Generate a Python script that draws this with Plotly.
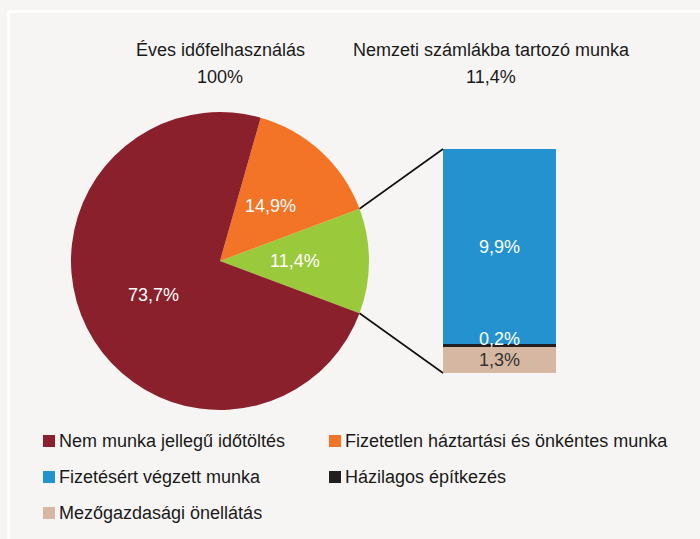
import math
import plotly.graph_objects as go

# ---------------- data ----------------
pie_labels = ["Nemzeti számlákba tartozó munka",
              "Fizetetlen háztartási és önkéntes munka",
              "Nem munka jellegű időtöltés"]
pie_values = [11.4, 14.9, 73.7]
pie_colors = ["#9BC93C", "#F37426", "#8B202D"]

bar_labels = ["Mezőgazdasági önellátás", "Házilagos építkezés", "Fizetésért végzett munka"]
bar_values = [1.3, 0.2, 9.9]
bar_colors = ["#D6B7A2", "#231F20", "#2492CE"]
bar_text_colors = ["#333333", "#FFFFFF", "#FFFFFF"]

legend_labels = ["Nem munka jellegű időtöltés", "Fizetetlen háztartási és önkéntes munka",
                 "Fizetésért végzett munka", "Házilagos építkezés",
                 "Mezőgazdasági önellátás"]
legend_colors = ["#8B202D", "#F37426", "#2492CE", "#231F20", "#D6B7A2"]

title_left = ["Éves időfelhasználás", "100%"]
title_right = ["Nemzeti számlákba tartozó munka", "11,4%"]

# ---------------- layout constants (pixels) ----------------
W, H = 700, 539
FONT = "Liberation Sans, Arial, sans-serif"
FS = 18
BG = "#F7F5F3"
PIE_BOX = (71, 112, 369, 410)     # left, top, right, bottom
BAR_BOX = (443, 149, 556, 373)
LABEL_RADIUS = 0.5                # fraction of pie radius for slice labels


def px(x):
    return x / W


def py(y):
    return 1 - y / H


def fmt(v):
    return f"{v:.1f}".replace(".", ",") + "%"


fig = go.Figure()

total = sum(pie_values)
half_angle = pie_values[0] / total * 180.0

fig.add_trace(go.Pie(
    labels=pie_labels, values=pie_values, sort=False,
    direction="counterclockwise", rotation=90 - half_angle,
    marker=dict(colors=pie_colors, line=dict(width=0)),
    textinfo="none",
    domain=dict(x=[px(PIE_BOX[0]), px(PIE_BOX[2])], y=[py(PIE_BOX[3]), py(PIE_BOX[1])]),
    showlegend=False, hoverinfo="label+percent",
))

for i, (lab, val, col) in enumerate(zip(bar_labels, bar_values, bar_colors)):
    show_text = lab != "Házilagos építkezés"
    fig.add_trace(go.Bar(
        x=["a"], y=[val], name=lab, width=1,
        marker=dict(color=col, line=dict(width=0)),
        texttemplate="%{y:.1f}%" if show_text else None,
        textposition="inside" if show_text else "none",
        insidetextanchor="middle", constraintext="none",
        textfont=dict(color=bar_text_colors[i], size=FS, family=FONT),
        showlegend=False,
    ))

bar_total = sum(bar_values)

annotations = []

# pie slice labels, placed on each slice's bisector
cx = (PIE_BOX[0] + PIE_BOX[2]) / 2
cy = (PIE_BOX[1] + PIE_BOX[3]) / 2
r = (PIE_BOX[2] - PIE_BOX[0]) / 2
start = -half_angle
for val in pie_values:
    span = val / total * 360.0
    mid = math.radians(start + span / 2)
    lx = cx + LABEL_RADIUS * r * math.cos(mid)
    ly = cy - LABEL_RADIUS * r * math.sin(mid)
    annotations.append(dict(x=px(lx), y=py(ly), xref="paper", yref="paper",
                            text=fmt(val), showarrow=False, xanchor="center", yanchor="middle",
                            font=dict(color="white", size=FS, family=FONT)))
    start += span

# label of the thin bar
base_thin = bar_values[0]
annotations.append(dict(
    x="a", y=base_thin + bar_values[1], xref="x", yref="y",
    text=fmt(bar_values[1]), showarrow=False, xanchor="center", yanchor="middle", yshift=5,
    font=dict(color="white", size=FS, family=FONT),
))

# titles (two lines each)
for title, tx in [(title_left, (PIE_BOX[0] + PIE_BOX[2]) / 2), (title_right, 491)]:
    for line, ty in zip(title, [50, 77]):
        annotations.append(dict(
            x=px(tx), y=py(ty), xref="paper", yref="paper",
            text=line, showarrow=False, xanchor="center", yanchor="middle",
            font=dict(color="#1A1A1A", size=FS, family=FONT)))

# manual legend
shapes = []
leg_cols = [43, 329]
leg_rows = [441, 477, 513]
SQ = 12
for k, (lab, col) in enumerate(zip(legend_labels, legend_colors)):
    lx = leg_cols[k % 2]
    ly = leg_rows[k // 2]
    shapes.append(dict(type="rect", xref="paper", yref="paper",
                       x0=px(lx), x1=px(lx + SQ), y0=py(ly + SQ / 2), y1=py(ly - SQ / 2),
                       fillcolor=col, line=dict(width=0)))
    annotations.append(dict(x=px(lx + SQ + 2), y=py(ly), xref="paper", yref="paper",
                            text=lab, showarrow=False, xanchor="left", yanchor="middle",
                            font=dict(color="#1A1A1A", size=FS, family=FONT)))

# connector lines from pie slice edges to the bar corners
th = math.radians(half_angle)
for sgn, by in [(1, BAR_BOX[1]), (-1, BAR_BOX[3])]:
    x0 = cx + r * math.cos(th)
    y0 = cy - sgn * r * math.sin(th)
    shapes.append(dict(type="line", xref="paper", yref="paper",
                       x0=px(x0), y0=py(y0), x1=px(BAR_BOX[0]), y1=py(by),
                       line=dict(color="#111111", width=1.6)))

# white frame lines
shapes.append(dict(type="line", xref="paper", yref="paper", x0=px(8.5), x1=1.0,
                   y0=py(11.5), y1=py(11.5), line=dict(color="white", width=2.5)))
shapes.append(dict(type="line", xref="paper", yref="paper", x0=px(8.5), x1=px(8.5),
                   y0=py(11.5), y1=0, line=dict(color="white", width=2.5)))

fig.update_layout(
    width=W, height=H, margin=dict(l=0, r=0, t=0, b=0),
    paper_bgcolor=BG, plot_bgcolor=BG,
    barmode="stack", bargap=0, separators=", ",
    xaxis=dict(domain=[px(BAR_BOX[0]), px(BAR_BOX[2])], range=[-0.5, 0.5],
               visible=False, fixedrange=True),
    yaxis=dict(domain=[py(BAR_BOX[3]), py(BAR_BOX[1])], range=[0, bar_total],
               visible=False, fixedrange=True),
    annotations=annotations, shapes=shapes,
    font=dict(family=FONT, size=FS, color="#1A1A1A"),
    showlegend=False,
)

fig.write_html(
    "out.html",
    config={"displayModeBar": False},
    post_script="document.body.style.margin='0px';document.body.style.background='" + BG + "';",
)
